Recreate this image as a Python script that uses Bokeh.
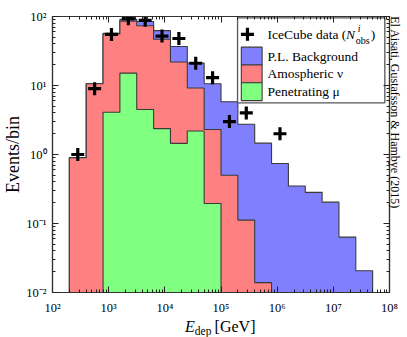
import math
from bokeh.plotting import figure
from bokeh.layouts import column
from bokeh.models import Range1d, FixedTicker, LogAxis, CustomJSTickFormatter, Div
from bokeh.core.properties import value
from bokeh.embed import file_html
from bokeh.resources import INLINE

# ---------------- data ----------------
# log10 of the bin edges of deposited energy [GeV]
bin_edges_log10 = [2.3, 2.6, 2.9, 3.2, 3.5, 3.8, 4.1, 4.4, 4.7, 5.0,
                   5.3, 5.6, 5.9, 6.2, 6.5, 6.8, 7.1, 7.4, 7.7]
# stacked levels (events / bin)
pl_background_total = [0.9, 10.6, 57.0, 91.0, 84.8, 62.4, 36.7, 21.2, 10.6, 5.8,
                       2.74, 1.46, 0.74, 0.35, 0.283, 0.204, 0.0635, 0.0207]
atmospheric_nu_total = [0.9, 10.6, 56.0, 85.7, 73.5, 46.8, 21.9, 9.2, 2.3, 0.5,
                        0.112, 0.0139, 0, 0, 0, 0, 0, 0]
penetrating_mu = [0, 0, 4.1, 15.1, 4.5, 2.37, 1.45, 2.19, 0.195, 0,
                  0, 0, 0, 0, 0, 0, 0, 0]
# IceCube observed events
data_bins = [0, 1, 2, 3, 4, 5, 6, 7, 8, 9, 10, 12]
data_counts = [1, 9, 55, 93, 88, 52, 48, 21, 13, 3, 4, 2]

x_major = [1e2, 1e3, 1e4, 1e5, 1e6, 1e7, 1e8]
y_major = [1e-2, 1e-1, 1e0, 1e1, 1e2]

legend_labels = ["P.L. Background", "Amospheric \u03bd", "Penetrating \u03bc"]
colors = ["#8080ff", "#ff8080", "#80ff80"]
credit = "El Aisati, Gustafsson & Hambye (2015)"

# ---------------- layout ----------------
W, H = 407, 317
BL, BR, BT, BB = 49, 18, 16, 22
FL, FR, FT, FB = BL, W - BR, BT, H - BB   # frame in page pixels
X0, X1, Y0, Y1 = 2.0, 8.0, -2.0, 2.0


def dx(sx):
    return 10 ** (X0 + (X1 - X0) * (sx - FL) / (FR - FL))


def dy(sy):
    return 10 ** (Y1 - (Y1 - Y0) * (sy - FT) / (FB - FT))


edges = [10 ** e for e in bin_edges_log10]
centers = [10 ** ((bin_edges_log10[i] + bin_edges_log10[i + 1]) / 2) for i in range(len(edges) - 1)]
FLOOR = 1e-4


def step_poly(vals):
    idx = [i for i, v in enumerate(vals) if v > 0]
    i0, i1 = idx[0], idx[-1]
    xs, ys = [edges[i0]], [FLOOR]
    for i in range(i0, i1 + 1):
        xs += [edges[i], edges[i + 1]]
        ys += [vals[i], vals[i]]
    xs.append(edges[i1 + 1])
    ys.append(FLOOR)
    return xs, ys


p = figure(width=W, height=H, x_axis_type="log", y_axis_type="log",
           x_range=Range1d(10 ** X0, 10 ** X1), y_range=Range1d(10 ** Y0, 10 ** Y1),
           output_backend="svg", toolbar_location=None,
           min_border_left=BL, min_border_right=BR, min_border_top=BT, min_border_bottom=BB)
p.grid.visible = False
p.outline_line_color = "#333333"
p.outline_line_width = 1.2
p.background_fill_color = "white"
p.border_fill_color = "white"

SERIF = "Liberation Serif"

for series, col in zip([pl_background_total, atmospheric_nu_total, penetrating_mu], colors):
    xs, ys = step_poly(series)
    p.patch(xs, ys, fill_color=col, fill_alpha=1.0, line_color="#3a3a3a", line_width=1.1)

p.scatter([centers[b] for b in data_bins], data_counts, marker="cross",
          size=13, line_width=3.2, color="black")


def minor_ticks(lo, hi):
    out = []
    for e in range(lo, hi):
        for m in range(2, 10):
            out.append(m * 10 ** e)
    return out


xt = FixedTicker(ticks=x_major, minor_ticks=minor_ticks(2, 8))
yt = FixedTicker(ticks=y_major, minor_ticks=minor_ticks(-2, 2))

fmt = CustomJSTickFormatter(code="""
const sup = {"0":"\u2070","1":"\u00b9","2":"\u00b2","3":"\u00b3","4":"\u2074",
             "5":"\u2075","6":"\u2076","7":"\u2077","8":"\u2078","9":"\u2079","-":"\u207b"};
const e = Math.round(Math.log10(tick));
return "10" + String(e).split("").map(c => sup[c]).join("");
""")
blank = CustomJSTickFormatter(code="return '';")


def style(ax, labels=True):
    ax.major_tick_in = 6
    ax.major_tick_out = 0
    ax.minor_tick_in = 3
    ax.minor_tick_out = 0
    ax.axis_line_color = "#333333"
    ax.axis_line_width = 1.2
    ax.major_tick_line_color = "#222222"
    ax.minor_tick_line_color = "#222222"
    ax.axis_label_text_font = SERIF
    ax.axis_label_text_font_style = "normal"
    ax.axis_label_text_color = "black"
    if labels:
        ax.major_label_text_font = SERIF
        ax.major_label_text_font_size = "12.5px"
        ax.major_label_text_color = "black"
        ax.major_label_standoff = 7
    else:
        ax.major_label_text_font_size = "0px"
        ax.major_label_standoff = 0


p.xaxis[0].ticker = xt
p.xaxis[0].formatter = fmt
p.yaxis[0].ticker = yt
p.yaxis[0].formatter = fmt
style(p.xaxis[0])
style(p.yaxis[0])
p.xaxis[0].major_label_standoff = 8
p.yaxis[0].major_label_standoff = 6
p.yaxis[0].axis_label = "Events/bin"
p.yaxis[0].axis_label_text_font_size = "18px"
p.yaxis[0].axis_label_standoff = 0

top = LogAxis(ticker=xt, formatter=blank)
right = LogAxis(ticker=yt, formatter=blank)
style(top, False)
style(right, False)
# centred label, padded at its end so that its visible part starts at the top of the frame
right.axis_label = credit + "\u00a0" * 28
right.axis_label_text_font_size = "12px"
right.axis_label_standoff = -2
p.add_layout(top, "above")
p.add_layout(right, "right")

# ---------------- legend (drawn by hand) ----------------
p.quad(left=dx(235.7), right=dx(384.3), top=dy(17.3), bottom=dy(103.3),
       fill_color="white", line_color="#555555", line_width=1.3)
p.scatter([dx(245.7)], [dy(34)], marker="cross", size=13, line_width=3.2, color="black")
row_y = [56, 74, 92]
for lab, col, ry in zip(legend_labels, colors, row_y):
    p.quad(left=dx(239.5), right=dx(260.5), top=dy(ry - 9), bottom=dy(ry + 9),
           fill_color=col, line_color="#3a3a3a", line_width=1.1)
p.text(x=[dx(266)] * 3, y=[dy(r) for r in row_y], text=legend_labels,
       text_font=value(SERIF), text_font_size="13.5px", text_baseline="middle",
       text_color="black")
p.text(x=[dx(266)], y=[dy(34)], text=["IceCube data ("], text_font=value(SERIF),
       text_font_size="13.5px", text_baseline="middle", text_color="black")
p.text(x=[dx(345)], y=[dy(34)], text=["N"], text_font=value(SERIF), text_font_style="italic",
       text_font_size="13.5px", text_baseline="middle", text_color="black")
p.text(x=[dx(357)], y=[dy(28)], text=["i"], text_font=value(SERIF), text_font_style="italic",
       text_font_size="10px", text_baseline="middle", text_color="black")
p.text(x=[dx(355)], y=[dy(40)], text=["obs"], text_font=value(SERIF),
       text_font_size="10px", text_baseline="middle", text_color="black")
p.text(x=[dx(370)], y=[dy(34)], text=[")"], text_font=value(SERIF),
       text_font_size="13.5px", text_baseline="middle", text_color="black")

# ---------------- x-axis title (HTML, for the subscript) ----------------
xlabel = Div(
    text=("<div style=\"font-family:'Liberation Serif',serif; font-size:16px; line-height:20px; "
          "padding-left:185px; white-space:nowrap; color:black;\">"
          "<i>E</i><sub style=\"font-size:11.5px; line-height:0; vertical-align:-3px;\">dep</sub>"
          "&#8201;[GeV]</div>"),
    width=W, height=20, margin=(0, 0, 0, 0))

layout = column(p, xlabel, spacing=0)
open("out.html", "w").write(file_html(layout, INLINE))
